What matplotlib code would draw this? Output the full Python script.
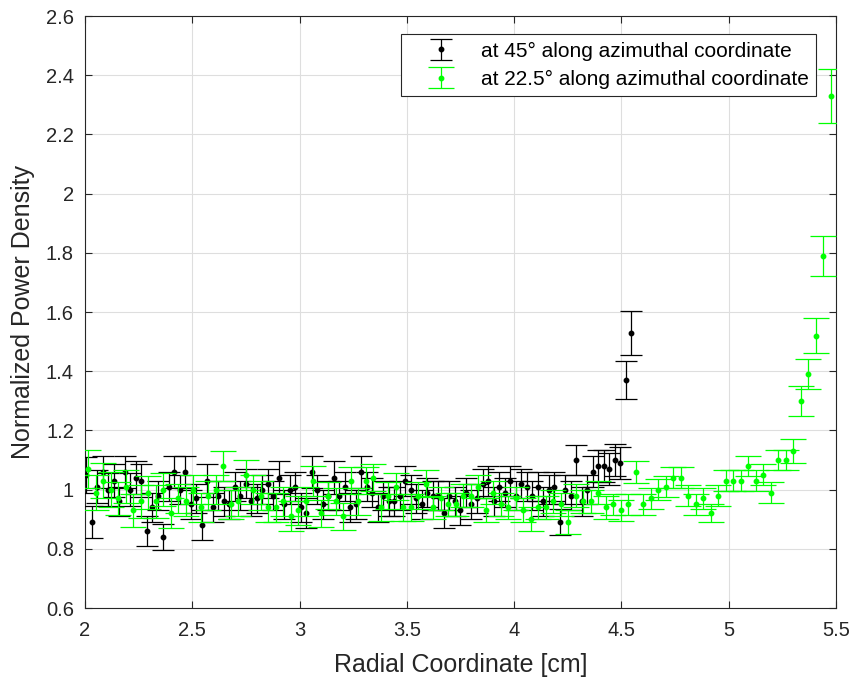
import numpy as np
import matplotlib
matplotlib.use("Agg")
import matplotlib.pyplot as plt

plt.rcParams['font.family'] = ['Liberation Sans', 'DejaVu Sans']
plt.rcParams['axes.unicode_minus'] = False

# radial positions (evenly sampled)
r_45 = np.linspace(2.006, 4.545, 100)
r_22 = np.linspace(2.014, 5.475, 100)

# normalized power density, 45 deg
p_45 = [1.05, 0.89, 1.01, 1.06, 1.00, 1.03, 0.96, 1.06, 1.00, 1.04,
        1.03, 0.86, 0.94, 0.98, 0.84, 1.01, 1.06, 1.00, 1.06, 0.95,
        0.97, 0.88, 1.03, 0.94, 0.98, 0.96, 0.95, 1.01, 0.98, 1.02,
        0.96, 0.97, 1.00, 1.02, 0.98, 1.04, 0.95, 1.00, 1.01, 0.94,
        0.92, 1.06, 1.00, 0.95, 0.98, 1.04, 0.98, 1.01, 0.94, 0.95,
        1.06, 1.01, 0.99, 0.94, 0.98, 0.96, 0.96, 0.98, 1.03, 1.00,
        0.97, 0.95, 0.99, 0.98, 0.98, 0.92, 0.98, 0.96, 0.93, 0.99,
        0.95, 0.97, 1.02, 1.03, 0.96, 1.01, 0.99, 1.03, 0.98, 1.02,
        1.01, 0.98, 1.01, 0.96, 1.00, 1.01, 0.89, 1.00, 0.98, 1.10,
        0.96, 1.00, 1.06, 1.08, 1.08, 1.07, 1.10, 1.09, 1.37, 1.53]
e_45 = [0.060, 0.055, 0.055, 0.055, 0.055, 0.055, 0.050, 0.055, 0.055, 0.055,
        0.055, 0.050, 0.050, 0.050, 0.045, 0.050, 0.055, 0.050, 0.055, 0.050,
        0.050, 0.050, 0.055, 0.050, 0.050, 0.050, 0.050, 0.050, 0.050, 0.050,
        0.050, 0.050, 0.050, 0.050, 0.050, 0.055, 0.050, 0.050, 0.050, 0.050,
        0.050, 0.055, 0.050, 0.050, 0.050, 0.055, 0.050, 0.050, 0.050, 0.050,
        0.055, 0.050, 0.050, 0.050, 0.050, 0.050, 0.050, 0.050, 0.050, 0.050,
        0.050, 0.050, 0.050, 0.050, 0.050, 0.050, 0.050, 0.050, 0.050, 0.050,
        0.050, 0.050, 0.050, 0.050, 0.050, 0.050, 0.050, 0.050, 0.050, 0.050,
        0.050, 0.050, 0.050, 0.050, 0.050, 0.050, 0.045, 0.050, 0.050, 0.052,
        0.050, 0.050, 0.052, 0.055, 0.055, 0.055, 0.055, 0.055, 0.065, 0.075]

# normalized power density, 22.5 deg
p_22 = [1.07, 0.99, 1.03, 1.00, 0.97, 1.01, 0.93, 0.96, 0.99, 0.96,
        1.00, 0.92, 0.97, 0.96, 1.00, 0.94, 0.98, 1.00, 1.08, 0.95,
        0.96, 1.05, 1.00, 0.98, 0.94, 0.94, 0.96, 0.91, 0.93, 0.96,
        1.03, 0.92, 0.98, 0.96, 0.91, 1.03, 0.96, 1.03, 1.04, 0.94,
        0.98, 1.01, 0.94, 0.94, 0.98, 1.02, 0.94, 0.97, 0.95, 0.95,
        0.98, 0.98, 1.01, 0.93, 0.99, 0.95, 0.94, 0.97, 0.93, 0.90,
        0.94, 0.94, 0.96, 0.95, 0.89, 0.98, 0.96, 0.96, 0.99, 0.94,
        0.95, 0.93, 0.95, 1.06, 0.95, 0.97, 1.00, 1.01, 1.04, 1.04,
        0.98, 0.95, 0.97, 0.92, 0.98, 1.03, 1.03, 1.03, 1.08, 1.03,
        1.05, 0.99, 1.10, 1.10, 1.13, 1.30, 1.39, 1.52, 1.79, 2.33]
e_22 = [0.065, 0.060, 0.060, 0.060, 0.055, 0.055, 0.055, 0.055, 0.055, 0.055,
        0.055, 0.050, 0.050, 0.050, 0.050, 0.050, 0.050, 0.050, 0.050, 0.050,
        0.050, 0.050, 0.050, 0.050, 0.050, 0.050, 0.050, 0.050, 0.050, 0.050,
        0.050, 0.045, 0.045, 0.045, 0.045, 0.045, 0.045, 0.045, 0.045, 0.045,
        0.045, 0.045, 0.045, 0.045, 0.045, 0.045, 0.040, 0.040, 0.040, 0.040,
        0.040, 0.040, 0.040, 0.040, 0.040, 0.040, 0.040, 0.040, 0.040, 0.040,
        0.040, 0.040, 0.040, 0.040, 0.040, 0.040, 0.040, 0.040, 0.040, 0.040,
        0.035, 0.035, 0.035, 0.037, 0.035, 0.035, 0.035, 0.035, 0.035, 0.035,
        0.035, 0.035, 0.035, 0.030, 0.035, 0.035, 0.035, 0.035, 0.035, 0.035,
        0.035, 0.035, 0.035, 0.035, 0.040, 0.050, 0.050, 0.060, 0.068, 0.092]

x_ticks = [2, 2.5, 3, 3.5, 4, 4.5, 5, 5.5]
x_labels = ['2', '2.5', '3', '3.5', '4', '4.5', '5', '5.5']
y_ticks = [0.6, 0.8, 1.0, 1.2, 1.4, 1.6, 1.8, 2.0, 2.2, 2.4, 2.6]
y_labels = ['0.6', '0.8', '1', '1.2', '1.4', '1.6', '1.8', '2', '2.2', '2.4', '2.6']

ink = '#262626'

fig = plt.figure(figsize=(8.55, 6.84), dpi=100)
ax = fig.add_axes([85 / 855, 76 / 684, 751 / 855, 592 / 684])

ax.errorbar(r_45, p_45, yerr=e_45, fmt='o', color='black', ecolor='black',
            markersize=3.2, elinewidth=0.9, capsize=8, capthick=0.9,
            label='at 45° along azimuthal coordinate', zorder=3)
ax.errorbar(r_22, p_22, yerr=e_22, fmt='o', color='#00ff00', ecolor='#00ff00',
            markersize=3.2, elinewidth=0.9, capsize=9.5, capthick=0.9,
            label='at 22.5° along azimuthal coordinate', zorder=4)

ax.set_xlim(2, 5.5)
ax.set_ylim(0.6, 2.6)
ax.set_xticks(x_ticks)
ax.set_xticklabels(x_labels)
ax.set_yticks(y_ticks)
ax.set_yticklabels(y_labels)

ax.grid(True, color='#dedede', linewidth=0.8)
ax.set_axisbelow(True)
ax.tick_params(direction='in', top=True, right=True, length=5, width=0.8,
               colors=ink, labelsize=14.5)
ax.tick_params(axis='x', pad=9)
ax.tick_params(axis='y', pad=8)
for s in ax.spines.values():
    s.set_color(ink)
    s.set_linewidth(0.8)

ax.set_xlabel('Radial Coordinate [cm]', fontsize=18, color=ink, labelpad=10)
ax.set_ylabel('Normalized Power Density', fontsize=18, color=ink, labelpad=8)

leg = ax.legend(loc='upper right', bbox_to_anchor=(0.974, 0.969),
                borderaxespad=0, fontsize=15, fancybox=False, framealpha=1,
                edgecolor=ink, handlelength=3.1, handletextpad=0.4,
                borderpad=0.35, labelspacing=0.45)
leg.get_frame().set_linewidth(0.8)

fig.savefig('out.png', dpi=100)
